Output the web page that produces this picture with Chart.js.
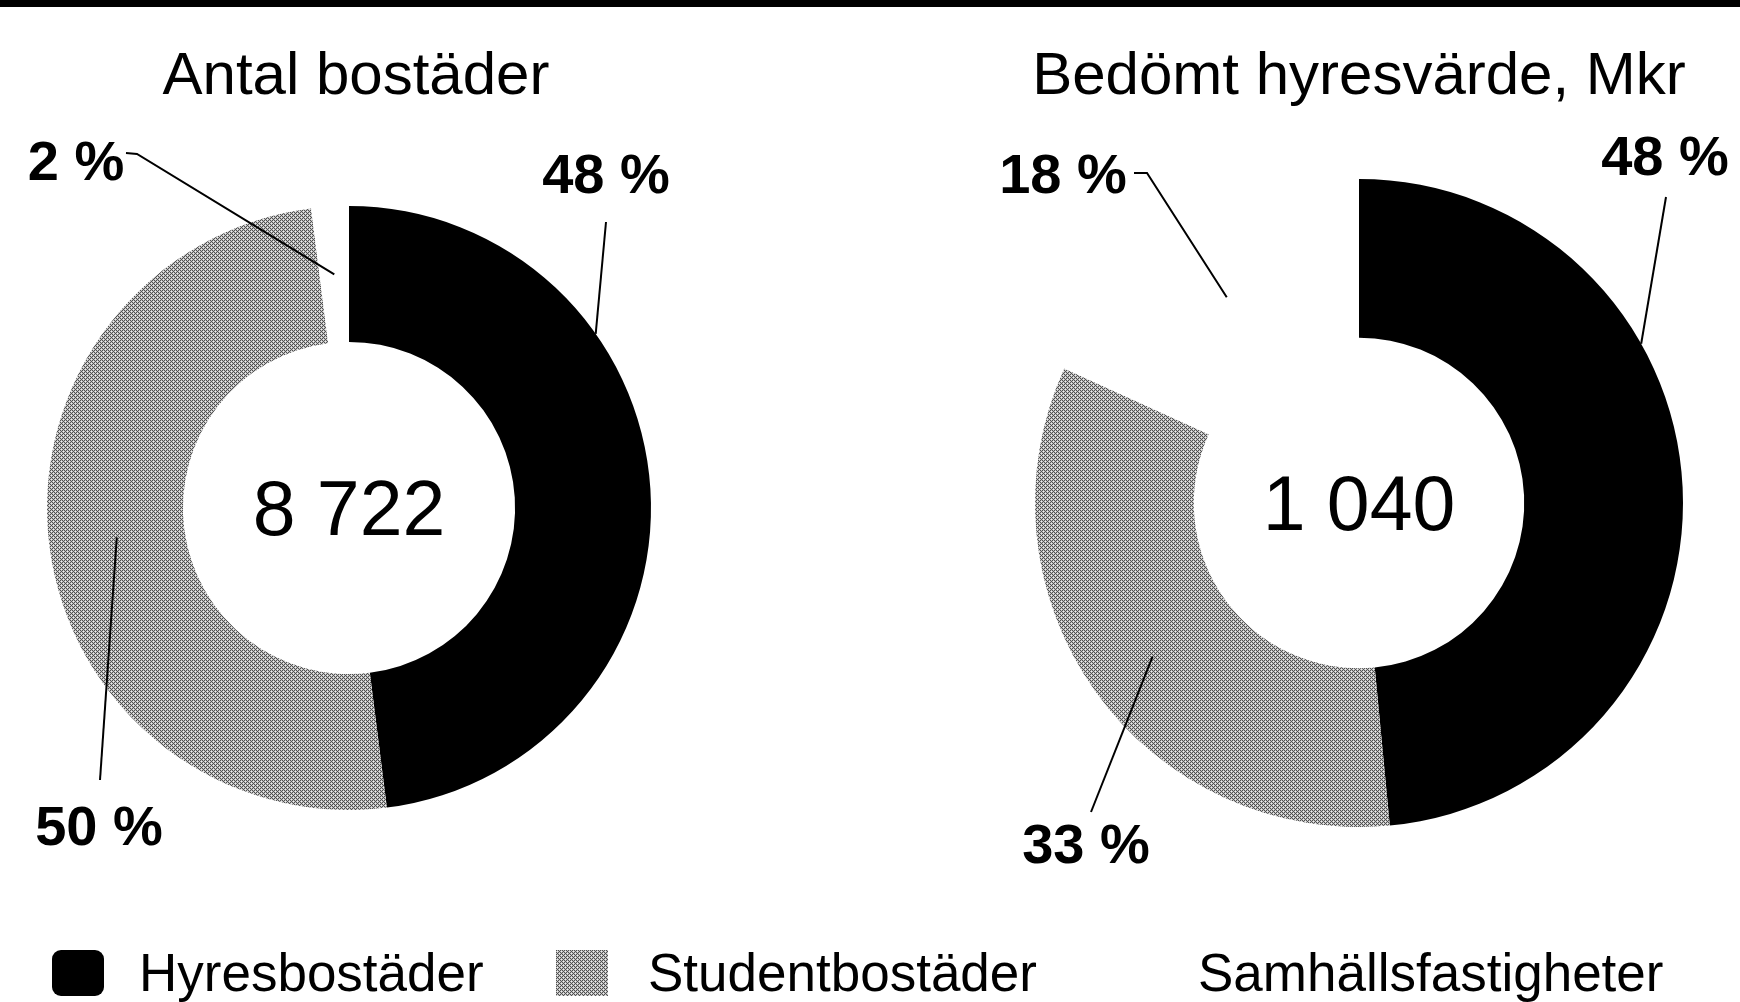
<!DOCTYPE html>
<html>
<head>
<meta charset="utf-8">
<script src="https://cdn.jsdelivr.net/npm/chart.js@4.4.1/dist/chart.umd.min.js"></script>
<style>
  body { margin: 0; width: 1740px; height: 1002px; background: #fff; position: relative; overflow: hidden;
         font-family: "Liberation Sans", Arial, sans-serif; color: #000; }
  #topbar { position: absolute; left: 0; top: 0; width: 1740px; height: 7px; background: #000; }
  .title { position: absolute; top: 44px; font-size: 60px; line-height: 60px; white-space: nowrap; transform: translateX(-50%); }
  canvas { position: absolute; top: 0; }
  .legend-item { position: absolute; top: 947px; height: 52px; font-size: 53px; line-height: 52px; white-space: nowrap; }
  .legend-box { position: absolute; top: 950px; width: 52px; height: 46px; }
</style>
</head>
<body>
<div id="topbar"></div>
<div class="title" style="left:356px">Antal bostäder</div>
<div class="title" style="left:1359px">Bedömt hyresvärde, Mkr</div>
<canvas id="chart-left" width="720" height="900" style="left:0px"></canvas>
<canvas id="chart-right" width="860" height="900" style="left:880px"></canvas>
<div id="legend"></div>
<script>
// Data
let categories = ["Hyresbostäder", "Studentbostäder", "Samhällsfastigheter"];
let bostaderPct = [48, 50, 2];
let hyresvardePct = [48, 33, 18];
let totals = [8722, 1040];

// gray crosshatch fill like the print
function makePattern() {
    let c = document.createElement('canvas');
    c.width = 4; c.height = 4;
    let g = c.getContext('2d');
    let rows = ["DLDL", "LWLD", "DLDL", "LDLW"];
    let cols = { D: "#505050", L: "#c0c0c0", W: "#ececec" };
    rows.forEach(function (row, y) {
        row.split('').forEach(function (k, x) {
            g.fillStyle = cols[k];
            g.fillRect(x, y, 1, 1);
        });
    });
    return c;
}
let patternCanvas = makePattern();
let grayPattern = patternCanvas.getContext('2d').createPattern(patternCanvas, 'repeat');
let colors = ["#000000", grayPattern, "#ffffff"];

function fmt(n) {
    return String(n).replace(/\B(?=(\d{3})+(?!\d))/g, ' ');
}

// label placement: offsets from doughnut centre, anchor along arc (t) and across ring (rf)
let leftLabels = [
    { t: 0.317, rf: 1.0, text: [257, -330], line: [257, -286] },
    { t: 0.5, rf: 0.5, text: [-250, 322], line: [-249, 272] },
    { t: 0.5, rf: 0.5, text: [-273, -343], line: [-212, -354], hook: [-223, -355] }
];
let rightLabels = [
    { t: 0.347, rf: 1.0, text: [306, -343], line: [307, -306] },
    { t: 0.49, rf: 0.58, text: [-273, 345], line: [-268, 309] },
    { t: 0.5, rf: 0.5, text: [-296, -325], line: [-212, -330], hook: [-225, -330] }
];

const leaderPlugin = {
    id: 'leaders',
    afterDatasetsDraw(chart, args, opts) {
        const ctx = chart.ctx;
        const meta = chart.getDatasetMeta(0);
        const values = chart.data.datasets[0].data;
        ctx.save();
        // centre total
        const a0 = meta.data[0];
        ctx.fillStyle = '#000';
        ctx.font = '77px "Liberation Sans", Arial, sans-serif';
        ctx.textAlign = 'center';
        ctx.textBaseline = 'middle';
        ctx.fillText(fmt(opts.total), a0.x, a0.y + 6);

        opts.labels.forEach(function (lab, i) {
            const arc = meta.data[i];
            const ang = arc.startAngle + lab.t * (arc.endAngle - arc.startAngle);
            const rad = arc.innerRadius + lab.rf * (arc.outerRadius - arc.innerRadius);
            const ax = arc.x + Math.cos(ang) * rad;
            const ay = arc.y + Math.sin(ang) * rad;

            ctx.strokeStyle = '#000';
            ctx.lineWidth = 2;
            ctx.beginPath();
            if (lab.hook) {
                ctx.moveTo(arc.x + lab.hook[0], arc.y + lab.hook[1]);
                ctx.lineTo(arc.x + lab.line[0], arc.y + lab.line[1]);
            } else {
                ctx.moveTo(arc.x + lab.line[0], arc.y + lab.line[1]);
            }
            ctx.lineTo(ax, ay);
            ctx.stroke();

            ctx.font = 'bold 56px "Liberation Sans", Arial, sans-serif';
            ctx.fillText(values[i] + ' %', arc.x + lab.text[0], arc.y + lab.text[1]);
        });
        ctx.restore();
    }
};

function makeChart(id, values, cutout, padding, labels, total) {
    return new Chart(document.getElementById(id), {
        type: 'doughnut',
        data: {
            labels: categories,
            datasets: [{
                data: values,
                backgroundColor: colors,
                borderWidth: 0,
                hoverOffset: 0
            }]
        },
        options: {
            responsive: false,
            animation: false,
            cutout: cutout,
            layout: { padding: padding },
            plugins: {
                legend: { display: false },
                tooltip: { enabled: false },
                leaders: { labels: labels, total: total }
            }
        },
        plugins: [leaderPlugin]
    });
}

makeChart('chart-left', bostaderPct, '55%', { left: 47, top: 206, right: 69, bottom: 90 }, leftLabels, totals[0]);
makeChart('chart-right', hyresvardePct, '51%', { left: 155, top: 179, right: 57, bottom: 73 }, rightLabels, totals[1]);

// Legend
let legendTextX = [139, 648, 1198];
let legendBoxX = [52, 556, null];
let legend = document.getElementById('legend');
let patternUrl = patternCanvas.toDataURL();
categories.forEach(function (name, i) {
    if (legendBoxX[i] !== null) {
        let box = document.createElement('div');
        box.className = 'legend-box';
        box.style.left = legendBoxX[i] + 'px';
        if (i == 0) {
            box.style.background = '#000';
            box.style.borderRadius = '9px';
        } else {
            box.style.backgroundImage = 'url(' + patternUrl + ')';
        }
        legend.appendChild(box);
    }
    let item = document.createElement('div');
    item.className = 'legend-item';
    item.style.left = legendTextX[i] + 'px';
    item.innerHTML = name;
    legend.appendChild(item);
});
</script>
</body>
</html>
